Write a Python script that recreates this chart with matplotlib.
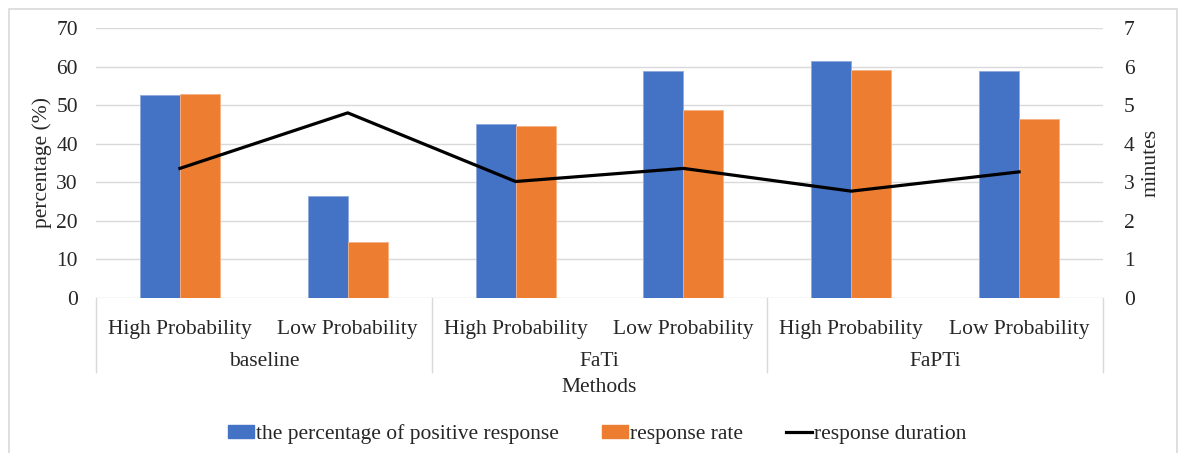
import matplotlib
matplotlib.use("Agg")
import matplotlib.pyplot as plt
import matplotlib.transforms as mtransforms
from matplotlib.lines import Line2D
from matplotlib.patches import Patch, Rectangle
import numpy as np

plt.rcParams['font.family'] = ['Liberation Serif', 'DejaVu Serif']

groups = ["baseline", "FaTi", "FaPTi"]
subcats = ["High Probability", "Low Probability"] * 3
positive = [52.6, 26.4, 45.1, 58.8, 61.4, 58.8]
rate = [52.8, 14.4, 44.6, 48.7, 59.1, 46.4]
duration = [3.36, 4.80, 3.02, 3.36, 2.77, 3.27]

W, H = 1181, 453
FS = 15.5
TC = "#262626"
fig = plt.figure(figsize=(W / 100, H / 100), dpi=100)

# outer chart border (bottom edge lies outside the image)
fig.patches.append(Rectangle((9 / W, -0.05), (1177 - 9) / W, 0.05 + (H - 9) / H,
                             transform=fig.transFigure, fill=False,
                             edgecolor="#d9d9d9", linewidth=1.2))

L, R, T, B = 96, 1103, 28, 298
ax = fig.add_axes([L / W, (H - B) / H, (R - L) / W, (B - T) / H])
ax2 = ax.twinx()

x = np.arange(len(subcats))
bw = 0.238
blue = "#4472C4"
orange = "#ED7D31"
ax.bar(x - bw / 2, positive, bw, color=blue, edgecolor="#8faadc", linewidth=0.6, zorder=3)
ax.bar(x + bw / 2, rate, bw, color=orange, edgecolor="#f4b183", linewidth=0.6, zorder=3)
ax2.plot(x, duration, color="black", linewidth=2.3, zorder=4)

ax.set_xlim(-0.5, len(subcats) - 0.5)
ax.set_ylim(0, 70)
ax2.set_ylim(0, 7)
ax.set_yticks(range(0, 71, 10))
ax2.set_yticks(range(0, 8))
ax.yaxis.grid(True, color="#d9d9d9", linewidth=1.0, zorder=0)
ax.set_axisbelow(True)
for a in (ax, ax2):
    for s in a.spines.values():
        s.set_visible(False)
    a.tick_params(axis="both", length=0, labelsize=FS, colors=TC)
ax.tick_params(axis="y", pad=13)
ax2.tick_params(axis="y", pad=15)

ax.set_xticks(x)
ax.set_xticklabels(subcats, fontsize=FS)
ax.tick_params(axis="x", pad=16)

ax.set_ylabel("percentage (%)", fontsize=FS, color=TC, labelpad=3)
ax2.set_ylabel("minutes", fontsize=FS, color=TC, labelpad=5)

# category boxes
trans = mtransforms.blended_transform_factory(ax.transData, fig.transFigure)
ybot = (H - 372) / H
ytop = (H - B) / H
for xv in [-0.5, 1.5, 3.5, 5.5]:
    fig.add_artist(Line2D([xv, xv], [ybot, ytop], transform=trans,
                          color="#d9d9d9", linewidth=1.0))
for i, g in enumerate(groups):
    fig.text(2 * i + 0.5, (H - 362) / H, g, transform=trans, ha="center", va="center",
             fontsize=FS, color=TC)
fig.text((L + R) / 2 / W, (H - 387) / H, "Methods", ha="center", va="center",
         fontsize=FS, color=TC)

handles = [Patch(facecolor=blue, edgecolor=blue, label="the percentage of positive response"),
           Patch(facecolor=orange, edgecolor=orange, label="response rate"),
           Line2D([0], [0], color="black", linewidth=2.3, label="response duration")]
fig.legend(handles=handles, loc="center", bbox_to_anchor=(597 / W, (H - 434) / H),
           ncol=3, frameon=False, fontsize=FS, handlelength=1.2, handleheight=0.55,
           handletextpad=0.1, columnspacing=2.0, labelcolor=TC)

fig.savefig("out.png", dpi=100)
